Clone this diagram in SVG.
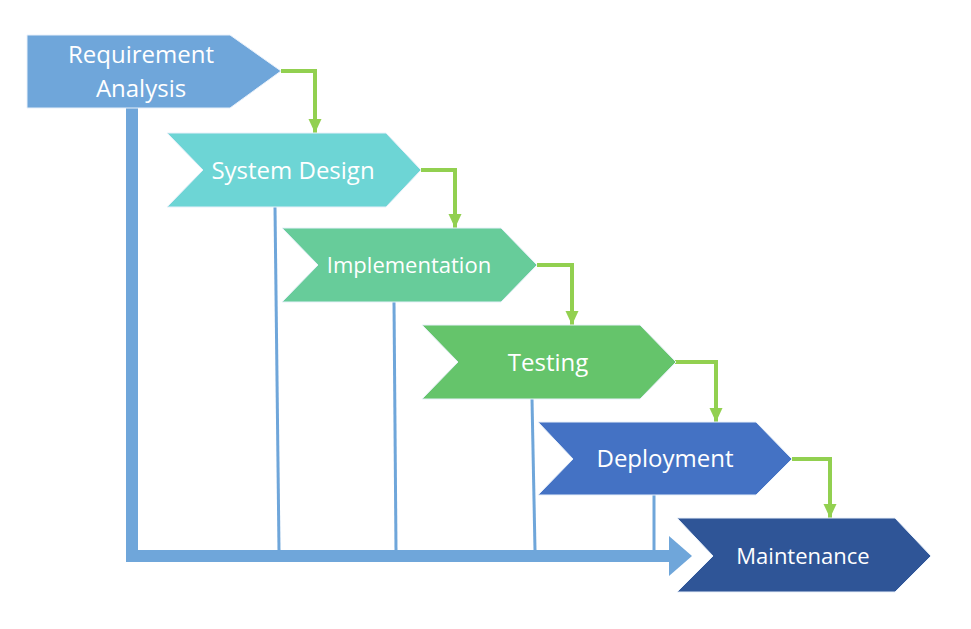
<svg xmlns="http://www.w3.org/2000/svg" width="971" height="629" viewBox="0 0 971 629">
<defs>
<style>
.lbl{font-family:"Open Sans","Liberation Sans",sans-serif;fill:#fff;text-anchor:middle}
.big{font-size:24px}
.sm{font-size:22px}
.shape{stroke:#e8f0fa;stroke-width:1}
.flow{fill:none;stroke:#92d050;stroke-width:4}
.drop{fill:none;stroke:#6fa6da;stroke-width:3}
.time{fill:none;stroke:#6fa6da;stroke-width:12}
</style>
<marker id="ga" markerUnits="userSpaceOnUse" markerWidth="14" markerHeight="14" viewBox="0 0 14 14" refX="14" refY="7" orient="auto">
<path d="M0,0.5 L14,7 L0,13.5 Z" fill="#92d050"/>
</marker>
</defs>
<rect width="971" height="629" fill="#fff"/>
<g id="connectors">
<path class="time" d="M132,108 V556 H670"/>
<polygon points="669,536 692,556 669,576" fill="#6fa6da"/>
<path class="drop" d="M275,207 L279,550"/>
<path class="drop" d="M394,302 L396,550"/>
<path class="drop" d="M532,399 L535,550"/>
<path class="drop" d="M654,495 L654,550"/>
<path class="flow" d="M281,71 H315 V133" marker-end="url(#ga)"/>
<path class="flow" d="M421,170 H455 V228" marker-end="url(#ga)"/>
<path class="flow" d="M537,265 H572 V325" marker-end="url(#ga)"/>
<path class="flow" d="M675,362 H716 V422" marker-end="url(#ga)"/>
<path class="flow" d="M792,459 H830 V518" marker-end="url(#ga)"/>
</g>
<g id="requirement-analysis">
<polygon class="shape" points="27,35 230,35 281,71 230,108 27,108" fill="#6fa6da"/>
<text class="lbl big" x="141" y="63">Requirement</text>
<text class="lbl big" x="141" y="97">Analysis</text>
</g>
<g id="system-design">
<polygon class="shape" points="167,133 386,133 421,170 386,207 167,207 203,170" fill="#6dd5d5"/>
<text class="lbl big" x="293" y="179">System Design</text>
</g>
<g id="implementation">
<polygon class="shape" points="282,228 501,228 537,265 501,302 282,302 318,265" fill="#67cc9a"/>
<text class="lbl sm" x="409" y="273">Implementation</text>
</g>
<g id="testing">
<polygon class="shape" points="422,325 640,325 676,362 640,399 422,399 458,362" fill="#65c46b"/>
<text class="lbl big" x="548" y="371">Testing</text>
</g>
<g id="deployment">
<polygon class="shape" points="538,422 756,422 792,459 756,495 538,495 573,459" fill="#4472c4"/>
<text class="lbl big" x="665" y="467">Deployment</text>
</g>
<g id="maintenance">
<polygon class="shape" points="677,518 895,518 931,556 895,592 677,592 713,556" fill="#2f5597"/>
<text class="lbl sm" x="803" y="564">Maintenance</text>
</g>
</svg>
